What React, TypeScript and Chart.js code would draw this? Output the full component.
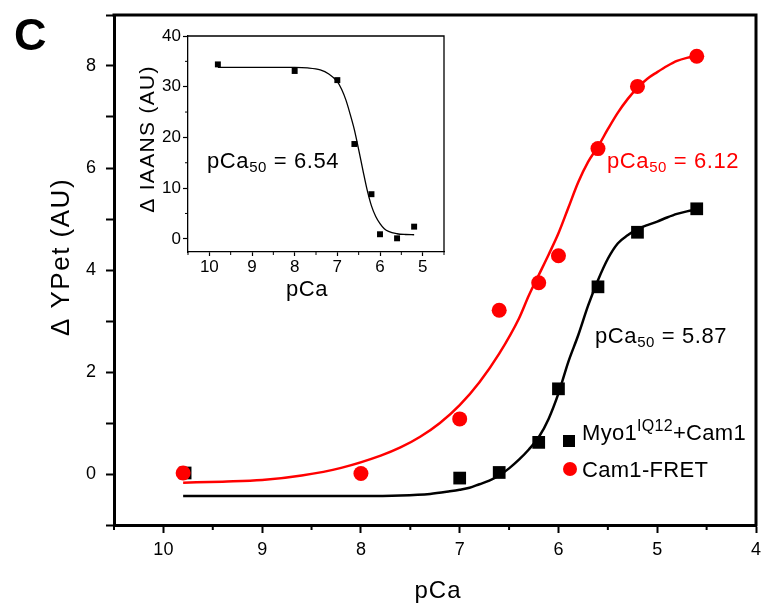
import React, { useEffect, useRef } from "react";
import { Chart, registerables } from "chart.js";

Chart.register(...registerables);

const FONT = '"Liberation Sans", Arial, Helvetica, sans-serif';
const RED = "#ff0000";
const BLACK = "#000000";

// Cam1-FRET measurements (red circles)
const fretPCa = [9.8, 8.0, 7.0, 6.6, 6.2, 6.0, 5.6, 5.2, 4.6];
const fretSignal = [0.02, 0.01, 1.08, 3.21, 3.75, 4.28, 6.38, 7.6, 8.19];

// Myo1 IQ12 + Cam1 measurements (black squares)
const myoPCa = [9.78, 7.0, 6.6, 6.2, 6.0, 5.6, 5.2, 4.6];
const myoSignal = [0.02, -0.08, 0.03, 0.62, 1.67, 3.67, 4.74, 5.2];

// Hill fit through the Cam1-FRET data
const fretFitPCa = [9.8, 9.4, 9.0, 8.6, 8.2, 7.8, 7.6, 7.4, 7.2, 7.0, 6.8, 6.6, 6.4, 6.3, 6.2, 6.1, 6.0, 5.9, 5.8, 5.7, 5.6, 5.5, 5.4, 5.3, 5.2, 5.1, 5.0, 4.9, 4.8, 4.7, 4.6];
const fretFitSignal = [-0.17, -0.15, -0.12, -0.03, 0.12, 0.36, 0.52, 0.73, 1.0, 1.35, 1.8, 2.36, 3.05, 3.5, 3.9, 4.3, 4.72, 5.22, 5.72, 6.12, 6.42, 6.76, 7.08, 7.35, 7.57, 7.75, 7.88, 8.0, 8.1, 8.16, 8.2];

// Hill fit through the Myo1 IQ12 + Cam1 data
const myoFitPCa = [9.8, 9.0, 8.0, 7.6, 7.3, 7.1, 7.0, 6.9, 6.8, 6.7, 6.6, 6.5, 6.4, 6.3, 6.2, 6.1, 6.0, 5.9, 5.8, 5.7, 5.6, 5.5, 5.4, 5.3, 5.2, 5.1, 5.0, 4.9, 4.8, 4.7, 4.6];
const myoFitSignal = [-0.43, -0.43, -0.43, -0.42, -0.39, -0.34, -0.31, -0.27, -0.2, -0.13, -0.03, 0.11, 0.28, 0.48, 0.72, 1.08, 1.58, 2.2, 2.72, 3.3, 3.8, 4.22, 4.52, 4.68, 4.8, 4.88, 4.95, 5.03, 5.1, 5.15, 5.18];

// Inset: IAANS fluorescence change
const iaansPCa = [9.8, 8.0, 7.0, 6.6, 6.2, 6.0, 5.6, 5.2];
const iaansSignal = [34.4, 33.1, 31.3, 18.7, 8.8, 0.9, 0.1, 2.4];
const iaansFitPCa = [9.8, 9.0, 8.0, 7.7, 7.4, 7.2, 7.0, 6.9, 6.8, 6.7, 6.6, 6.5, 6.4, 6.3, 6.2, 6.1, 6.0, 5.9, 5.8, 5.6, 5.4, 5.2];
const iaansFitSignal = [33.8, 33.8, 33.8, 33.7, 33.3, 32.5, 31.0, 29.5, 27.4, 24.6, 21.5, 17.6, 13.5, 9.6, 6.5, 4.4, 3.0, 2.0, 1.45, 1.0, 0.85, 0.8];

// Axis ticks
const mainXTicks = [10, 9, 8, 7, 6, 5, 4];
const mainXMinor = [10.5, 9.5, 8.5, 7.5, 6.5, 5.5, 4.5];
const mainYTicks = [-1, 0, 1, 2, 3, 4, 5, 6, 7, 8, 9];
const mainYLabels = [0, 2, 4, 6, 8];
const insetXTicks = [10, 9, 8, 7, 6, 5];
const insetXMinor = [10.5, 9.5, 8.5, 7.5, 6.5, 5.5, 4.5];
const insetYTicks = [0, 10, 20, 30, 40];
const insetYMinor = [5, 15, 25, 35];

const fretPCa50 = "6.12";
const myoPCa50 = "5.87";
const iaansPCa50 = "6.54";

const zip = (xs: number[], ys: number[]) => xs.map((x, i) => ({ x, y: ys[i] }));

type Part = { text: string; size: number; dy?: number; bold?: boolean };

function drawParts(ctx: CanvasRenderingContext2D, x: number, baseline: number, parts: Part[], color: string, spacing = 0) {
  ctx.save();
  ctx.fillStyle = color;
  ctx.textAlign = "left";
  ctx.textBaseline = "alphabetic";
  (ctx as any).letterSpacing = spacing + "px";
  let cx = x;
  for (const p of parts) {
    ctx.font = `${p.bold ? "bold " : ""}${p.size}px ${FONT}`;
    ctx.fillText(p.text, cx, baseline + (p.dy || 0));
    cx += ctx.measureText(p.text).width;
  }
  ctx.restore();
}

function pca50Parts(value: string): Part[] {
  return [
    { text: "pCa", size: 22 },
    { text: "50", size: 15, dy: 4 },
    { text: " = " + value, size: 22 },
  ];
}

function drawRotated(ctx: CanvasRenderingContext2D, text: string, cx: number, cy: number, size: number, spacing: number) {
  ctx.save();
  ctx.translate(cx, cy);
  ctx.rotate(-Math.PI / 2);
  ctx.fillStyle = BLACK;
  ctx.font = `${size}px ${FONT}`;
  (ctx as any).letterSpacing = spacing + "px";
  ctx.textAlign = "center";
  ctx.textBaseline = "middle";
  ctx.fillText(text, 0, 0);
  ctx.restore();
}

// keep the plot box exactly where layout padding and afterFit put it
const noAutoPadding = (s: any) => {
  s.paddingTop = 0;
  s.paddingBottom = 0;
  s.paddingLeft = 0;
  s.paddingRight = 0;
};

const mainDecor = {
  id: "mainDecor",
  afterDraw(chart: any) {
    const { ctx, chartArea: a, scales } = chart;
    const xs = scales.x;
    ctx.save();
    ctx.strokeStyle = BLACK;
    ctx.lineWidth = 3;
    ctx.beginPath();
    ctx.moveTo(a.left - 1.5, a.top);
    ctx.lineTo(a.right, a.top);
    ctx.lineTo(a.right, a.bottom + 1.5);
    ctx.stroke();
    ctx.lineWidth = 2;
    for (const v of mainXMinor) {
      const px = xs.getPixelForValue(v);
      ctx.beginPath();
      ctx.moveTo(px, a.bottom);
      ctx.lineTo(px, a.bottom + 5);
      ctx.stroke();
    }
    ctx.restore();

    // panel letter
    drawParts(ctx, 14, 50, [{ text: "C", size: 45, bold: true }], BLACK);

    // axis titles
    drawRotated(ctx, "\u0394 YPet (AU)", 62, 257, 26, 1.5);
    ctx.save();
    ctx.fillStyle = BLACK;
    ctx.font = `24px ${FONT}`;
    (ctx as any).letterSpacing = "1px";
    ctx.textAlign = "center";
    ctx.textBaseline = "alphabetic";
    ctx.fillText("pCa", 438, 598);
    ctx.restore();

    // pCa50 annotations
    drawParts(ctx, 607, 168, pca50Parts(fretPCa50), RED, 0.6);
    drawParts(ctx, 595, 343, pca50Parts(myoPCa50), BLACK, 0.6);

    // legend
    ctx.save();
    ctx.fillStyle = BLACK;
    ctx.fillRect(563, 435, 12, 12);
    ctx.fillStyle = RED;
    ctx.beginPath();
    ctx.arc(570, 469, 7, 0, Math.PI * 2);
    ctx.fill();
    ctx.restore();
    drawParts(ctx, 582, 440, [
      { text: "Myo1", size: 22 },
      { text: "IQ12", size: 16, dy: -9 },
      { text: "+Cam1", size: 22 },
    ], BLACK, 0.3);
    drawParts(ctx, 582, 477, [{ text: "Cam1-FRET", size: 22 }], BLACK, 0.3);
  },
};

const insetDecor = {
  id: "insetDecor",
  afterDraw(chart: any) {
    const { ctx, chartArea: a, scales } = chart;
    const xs = scales.x;
    const ys = scales.y;
    ctx.save();
    ctx.strokeStyle = BLACK;
    ctx.lineWidth = 1.3;
    ctx.beginPath();
    ctx.moveTo(a.left, a.top);
    ctx.lineTo(a.right, a.top);
    ctx.lineTo(a.right, a.bottom);
    ctx.stroke();
    ctx.lineWidth = 1;
    for (const v of insetXMinor) {
      const px = xs.getPixelForValue(v);
      ctx.beginPath();
      ctx.moveTo(px, a.bottom);
      ctx.lineTo(px, a.bottom + 3);
      ctx.stroke();
    }
    for (const v of insetYMinor) {
      const py = ys.getPixelForValue(v);
      ctx.beginPath();
      ctx.moveTo(a.left, py);
      ctx.lineTo(a.left - 3, py);
      ctx.stroke();
    }
    ctx.restore();

    drawRotated(ctx, "\u0394 IAANS (AU)", 28, 119, 21, 1.3);
    ctx.save();
    ctx.fillStyle = BLACK;
    ctx.font = `22px ${FONT}`;
    (ctx as any).letterSpacing = "0.5px";
    ctx.textAlign = "center";
    ctx.textBaseline = "alphabetic";
    ctx.fillText("pCa", 187, 276);
    ctx.restore();

    drawParts(ctx, 87, 148, pca50Parts(iaansPCa50), BLACK, 0.6);
  },
};

export default function App() {
  const mainRef = useRef<HTMLCanvasElement>(null);
  const insetRef = useRef<HTMLCanvasElement>(null);

  useEffect(() => {
    const tickFont = { family: FONT, size: 18 };
    const main = new Chart(mainRef.current as HTMLCanvasElement, {
      type: "scatter",
      data: {
        datasets: [
          {
            label: "Cam1-FRET fit",
            data: zip(fretFitPCa, fretFitSignal),
            showLine: true,
            borderColor: RED,
            borderWidth: 2.5,
            pointRadius: 0,
            cubicInterpolationMode: "monotone",
            order: 4,
          } as any,
          {
            label: "Myo1 fit",
            data: zip(myoFitPCa, myoFitSignal),
            showLine: true,
            borderColor: BLACK,
            borderWidth: 2.5,
            pointRadius: 0,
            cubicInterpolationMode: "monotone",
            order: 3,
          },
          {
            label: "Myo1IQ12+Cam1",
            data: zip(myoPCa, myoSignal),
            pointStyle: "rect",
            pointRadius: 9,
            backgroundColor: BLACK,
            borderWidth: 0,
            order: 2,
          },
          {
            label: "Cam1-FRET",
            data: zip(fretPCa, fretSignal),
            pointStyle: "circle",
            pointRadius: 7.5,
            backgroundColor: RED,
            borderWidth: 0,
            order: 1,
          },
        ],
      },
      options: {
        responsive: false,
        animation: false,
        devicePixelRatio: 1,
        layout: { padding: { left: 0, top: 15, right: 5, bottom: 0 } },
        plugins: { legend: { display: false }, tooltip: { enabled: false } },
        scales: {
          x: {
            type: "linear",
            position: "bottom",
            reverse: true,
            min: 4,
            max: 10.5,
            afterFit: (s: any) => { s.height = 79; noAutoPadding(s); },
            afterBuildTicks: (s: any) => { s.ticks = mainXTicks.map((v) => ({ value: v })); },
            ticks: { font: tickFont, color: BLACK, padding: 6, maxRotation: 0, callback: (v: any) => String(v) },
            grid: { drawOnChartArea: false, drawTicks: true, tickLength: 8, tickWidth: 2, tickColor: BLACK },
            border: { display: true, color: BLACK, width: 3 },
            title: { display: false },
          },
          y: {
            type: "linear",
            min: -1,
            max: 9,
            afterFit: (s: any) => { s.width = 114; noAutoPadding(s); },
            afterBuildTicks: (s: any) => { s.ticks = mainYTicks.map((v) => ({ value: v })); },
            ticks: {
              font: tickFont,
              color: BLACK,
              padding: 10,
              callback: (v: any) => (mainYLabels.includes(v) ? String(v) : ""),
            },
            grid: { drawOnChartArea: false, drawTicks: true, tickLength: 8, tickWidth: 2, tickColor: BLACK },
            border: { display: true, color: BLACK, width: 3 },
            title: { display: false },
          },
        },
      },
      plugins: [mainDecor],
    } as any);

    const insetFont = { family: FONT, size: 17 };
    const inset = new Chart(insetRef.current as HTMLCanvasElement, {
      type: "scatter",
      data: {
        datasets: [
          {
            label: "IAANS fit",
            data: zip(iaansFitPCa, iaansFitSignal),
            showLine: true,
            borderColor: BLACK,
            borderWidth: 1.3,
            pointRadius: 0,
            cubicInterpolationMode: "monotone",
            order: 2,
          } as any,
          {
            label: "IAANS",
            data: zip(iaansPCa, iaansSignal),
            pointStyle: "rect",
            pointRadius: 4.2,
            backgroundColor: BLACK,
            borderWidth: 0,
            order: 1,
          },
        ],
      },
      options: {
        responsive: false,
        animation: false,
        devicePixelRatio: 1,
        layout: { padding: { left: 0, top: 16, right: 16, bottom: 0 } },
        plugins: { legend: { display: false }, tooltip: { enabled: false } },
        scales: {
          x: {
            type: "linear",
            reverse: true,
            min: 4.5,
            max: 10.5,
            afterFit: (s: any) => { s.height = 58; noAutoPadding(s); },
            afterBuildTicks: (s: any) => { s.ticks = insetXTicks.map((v) => ({ value: v })); },
            ticks: { font: insetFont, color: BLACK, padding: 1, maxRotation: 0, callback: (v: any) => String(v) },
            grid: { drawOnChartArea: false, drawTicks: true, tickLength: 4, tickWidth: 1.2, tickColor: BLACK },
            border: { display: true, color: BLACK, width: 1.3 },
          },
          y: {
            type: "linear",
            min: -2.6,
            max: 40,
            afterFit: (s: any) => { s.width = 68; noAutoPadding(s); },
            afterBuildTicks: (s: any) => { s.ticks = insetYTicks.map((v) => ({ value: v })); },
            ticks: { font: insetFont, color: BLACK, padding: 2, callback: (v: any) => String(v) },
            grid: { drawOnChartArea: false, drawTicks: true, tickLength: 5, tickWidth: 1.2, tickColor: BLACK },
            border: { display: true, color: BLACK, width: 1.3 },
          },
        },
      },
      plugins: [insetDecor],
    } as any);

    return () => {
      main.destroy();
      inset.destroy();
    };
  }, []);

  return (
    <div style={{ position: "fixed", left: 0, top: 0, width: 765, height: 604, background: "#ffffff" }}>
      <canvas ref={mainRef} width={765} height={604} style={{ position: "absolute", left: 0, top: 0 }} />
      <canvas ref={insetRef} width={340} height={290} style={{ position: "absolute", left: 120, top: 20 }} />
    </div>
  );
}
